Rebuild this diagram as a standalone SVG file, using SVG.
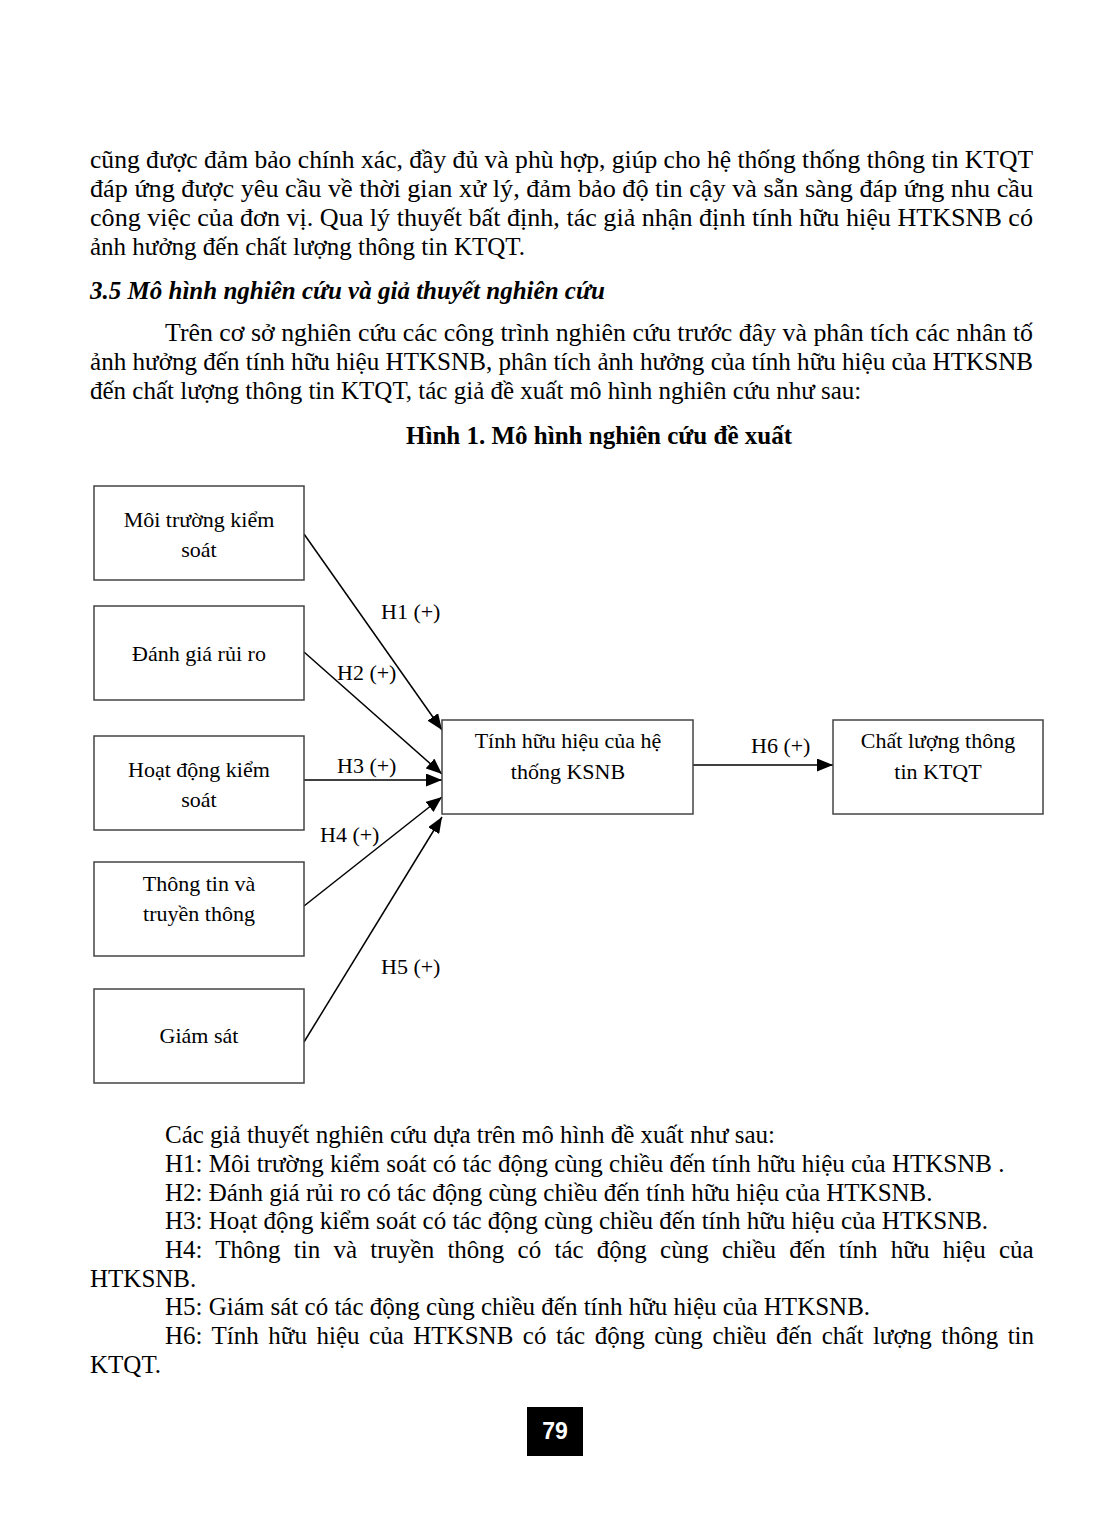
<svg xmlns="http://www.w3.org/2000/svg" width="1110" height="1535" viewBox="0 0 1110 1535">
<style>
.body{font-family:"Liberation Serif","Times New Roman",serif;font-size:25px;fill:#000}
.bi{font-family:"Liberation Serif","Times New Roman",serif;font-size:25px;font-weight:bold;font-style:italic;fill:#000}
.bt{font-family:"Liberation Serif","Times New Roman",serif;font-size:25px;font-weight:bold;fill:#000;text-anchor:middle}
.box{fill:#fff;stroke:#444;stroke-width:1.5}
.lbl{font-family:"Liberation Serif","Times New Roman",serif;font-size:22px;fill:#000;text-anchor:middle}
.el{font-family:"Liberation Serif","Times New Roman",serif;font-size:22px;fill:#000}
.conn line{stroke:#000;stroke-width:1.5;marker-end:url(#ah)}
</style>
<defs>
<marker id="ah" markerUnits="userSpaceOnUse" markerWidth="17" markerHeight="13" refX="16" refY="6.5" orient="auto">
<path d="M0,0 L16,6.5 L0,13 Z" fill="#000"/>
</marker>
</defs>
<rect width="1110" height="1535" fill="#fff"/>
<g id="text-top">
<text class="body" x="90" y="168" textLength="943" lengthAdjust="spacingAndGlyphs">cũng được đảm bảo chính xác, đầy đủ và phù hợp, giúp cho hệ thống thống thông tin KTQT</text>
<text class="body" x="90" y="197" textLength="943" lengthAdjust="spacingAndGlyphs">đáp ứng được yêu cầu về thời gian xử lý, đảm bảo độ tin cậy và sẵn sàng đáp ứng nhu cầu</text>
<text class="body" x="90" y="226" textLength="943" lengthAdjust="spacingAndGlyphs">công việc của đơn vị. Qua lý thuyết bất định, tác giả nhận định tính hữu hiệu HTKSNB có</text>
<text class="body" x="90" y="255">ảnh hưởng đến chất lượng thông tin KTQT.</text>
<text class="bi" x="90" y="299">3.5 Mô hình nghiên cứu và giả thuyết nghiên cứu</text>
<text class="body" x="165" y="341" textLength="868" lengthAdjust="spacingAndGlyphs">Trên cơ sở nghiên cứu các công trình nghiên cứu trước đây và phân tích các nhân tố</text>
<text class="body" x="90" y="370" textLength="943" lengthAdjust="spacingAndGlyphs">ảnh hưởng đến tính hữu hiệu HTKSNB, phân tích ảnh hưởng của tính hữu hiệu của HTKSNB</text>
<text class="body" x="90" y="399">đến chất lượng thông tin KTQT, tác giả đề xuất mô hình nghiên cứu như sau:</text>
<text class="bt" x="599" y="444">Hình 1. Mô hình nghiên cứu đề xuất</text>
</g>
<g id="connectors" class="conn">
<line x1="304" y1="534" x2="442" y2="730"/>
<line x1="304" y1="652" x2="442" y2="774"/>
<line x1="304" y1="780" x2="442" y2="780"/>
<line x1="304" y1="906" x2="442" y2="797"/>
<line x1="304" y1="1042" x2="442" y2="817"/>
<line x1="693" y1="765" x2="833" y2="765"/>
</g>
<g id="edge-labels">
<text class="el" x="381" y="619">H1 (+)</text>
<text class="el" x="337" y="680">H2 (+)</text>
<text class="el" x="337" y="773">H3 (+)</text>
<text class="el" x="320" y="842">H4 (+)</text>
<text class="el" x="381" y="974">H5 (+)</text>
<text class="el" x="751" y="753">H6 (+)</text>
</g>
<g id="n1"><rect class="box" x="94" y="486" width="210" height="94"/><text class="lbl" x="199" y="527">Môi trường kiểm</text><text class="lbl" x="199" y="557">soát</text></g>
<g id="n2"><rect class="box" x="94" y="606" width="210" height="94"/><text class="lbl" x="199" y="661">Đánh giá rủi ro</text></g>
<g id="n3"><rect class="box" x="94" y="736" width="210" height="94"/><text class="lbl" x="199" y="777">Hoạt động kiểm</text><text class="lbl" x="199" y="807">soát</text></g>
<g id="n4"><rect class="box" x="94" y="862" width="210" height="94"/><text class="lbl" x="199" y="891">Thông tin và</text><text class="lbl" x="199" y="921">truyền thông</text></g>
<g id="n5"><rect class="box" x="94" y="989" width="210" height="94"/><text class="lbl" x="199" y="1043">Giám sát</text></g>
<g id="n6"><rect class="box" x="442" y="720" width="251" height="94"/><text class="lbl" x="568" y="748">Tính hữu hiệu của hệ</text><text class="lbl" x="568" y="779">thống KSNB</text></g>
<g id="n7"><rect class="box" x="833" y="720" width="210" height="94"/><text class="lbl" x="938" y="748">Chất lượng thông</text><text class="lbl" x="938" y="779">tin KTQT</text></g>
<g id="text-bottom">
<text class="body" x="165" y="1143">Các giả thuyết nghiên cứu dựa trên mô hình đề xuất như sau:</text>
<text class="body" x="165" y="1172">H1: Môi trường kiểm soát có tác động cùng chiều đến tính hữu hiệu của HTKSNB .</text>
<text class="body" x="165" y="1201">H2: Đánh giá rủi ro có tác động cùng chiều đến tính hữu hiệu của HTKSNB.</text>
<text class="body" x="165" y="1229">H3: Hoạt động kiểm soát có tác động cùng chiều đến tính hữu hiệu của HTKSNB.</text>
<text class="body" x="165" y="1258" word-spacing="7">H4: Thông tin và truyền thông có tác động cùng chiều đến tính hữu hiệu của</text>
<text class="body" x="90" y="1287">HTKSNB.</text>
<text class="body" x="165" y="1315">H5: Giám sát có tác động cùng chiều đến tính hữu hiệu của HTKSNB.</text>
<text class="body" x="165" y="1344" word-spacing="3.3">H6: Tính hữu hiệu của HTKSNB có tác động cùng chiều đến chất lượng thông tin</text>
<text class="body" x="90" y="1373">KTQT.</text>
</g>
<g id="page-number">
<rect x="527" y="1407" width="56" height="49" fill="#000"/>
<text x="555" y="1439" text-anchor="middle" font-family="Liberation Sans, Arial, sans-serif" font-weight="bold" font-size="23" fill="#fff">79</text>
</g>
</svg>
